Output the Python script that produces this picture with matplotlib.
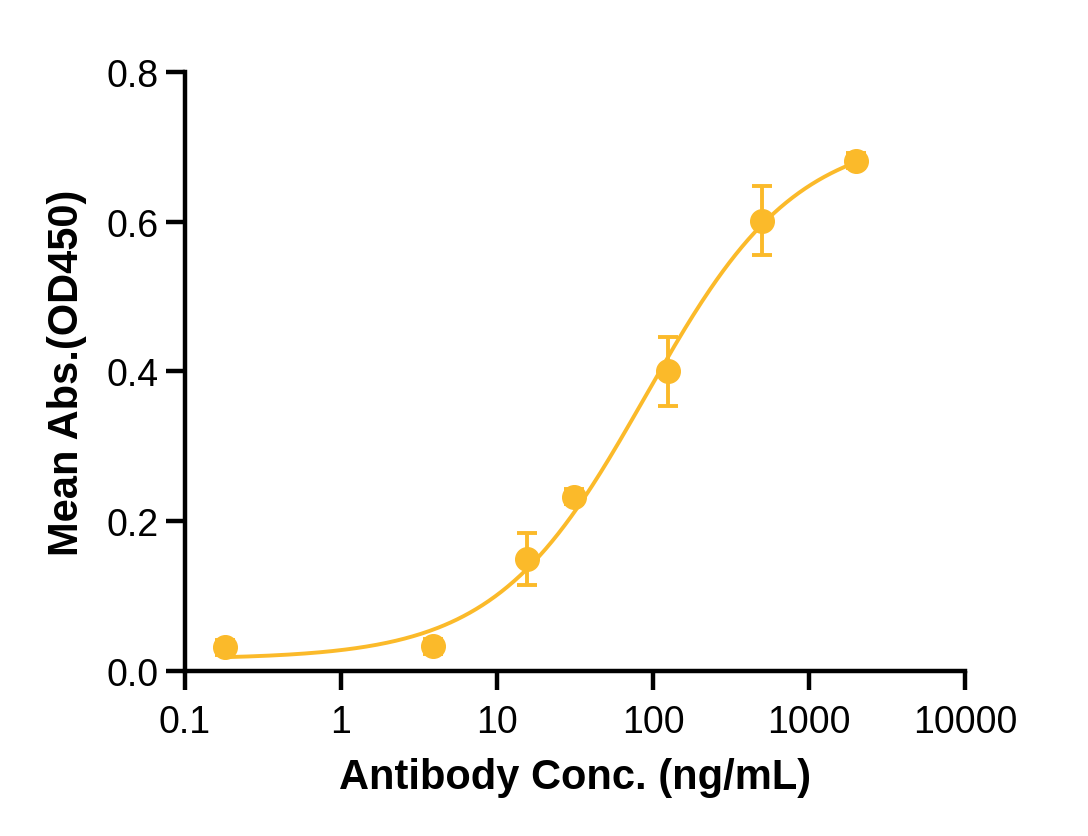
import numpy as np
import matplotlib
matplotlib.use("Agg")
import matplotlib.pyplot as plt

# data
conc = [0.18, 3.9, 15.6, 31.25, 125, 500, 2000]
mean_abs = [0.032, 0.033, 0.150, 0.233, 0.400, 0.601, 0.681]
err = [0.010, 0.010, 0.035, 0.010, 0.046, 0.046, 0.010]

# 4PL fit parameters (bottom, top, EC50, hill) estimated from the drawn curve
fit_bottom = 0.016
fit_top = 0.72
fit_ec50 = 90.0
fit_hill = 0.9

xticks = [0.1, 1, 10, 100, 1000, 10000]
xtick_labels = ["0.1", "1", "10", "100", "1000", "10000"]
yticks = [0.0, 0.2, 0.4, 0.6, 0.8]

col = "#FBBA2A"

plt.rcParams['font.family'] = ['Liberation Sans', 'DejaVu Sans']

fig = plt.figure(figsize=(10.88, 8.37), dpi=100)
ax = fig.add_axes([0.170, 0.197, 0.717, 0.716])

xs = np.logspace(np.log10(conc[0]), np.log10(conc[-1]), 300)
ys = fit_bottom + (fit_top - fit_bottom) / (1 + (fit_ec50 / xs) ** fit_hill)
ax.plot(xs, ys, color=col, lw=2.8, zorder=2)

ax.errorbar(conc, mean_abs, yerr=err, fmt="o", color=col, ms=17,
            elinewidth=2.8, capsize=7, capthick=2.8, zorder=3)

ax.set_xscale("log")
ax.set_xlim(0.1, 10000)
ax.set_ylim(0, 0.8)
ax.set_xticks(xticks)
ax.set_xticklabels(xtick_labels)
ax.minorticks_off()
ax.set_yticks(yticks)
ax.set_yticklabels(["0.0", "0.2", "0.4", "0.6", "0.8"])

for s in ["top", "right"]:
    ax.spines[s].set_visible(False)
for s in ["left", "bottom"]:
    ax.spines[s].set_linewidth(3.2)
ax.tick_params(width=3.2, length=14, labelsize=27, pad=10)
ax.tick_params(axis="y", pad=5)

ax.set_xlabel("Antibody Conc. (ng/mL)", fontsize=30, fontweight="bold", labelpad=12)
ax.set_ylabel("Mean Abs.(OD450)", fontsize=30, fontweight="bold", labelpad=14)

plt.savefig("out.png", dpi=100)
